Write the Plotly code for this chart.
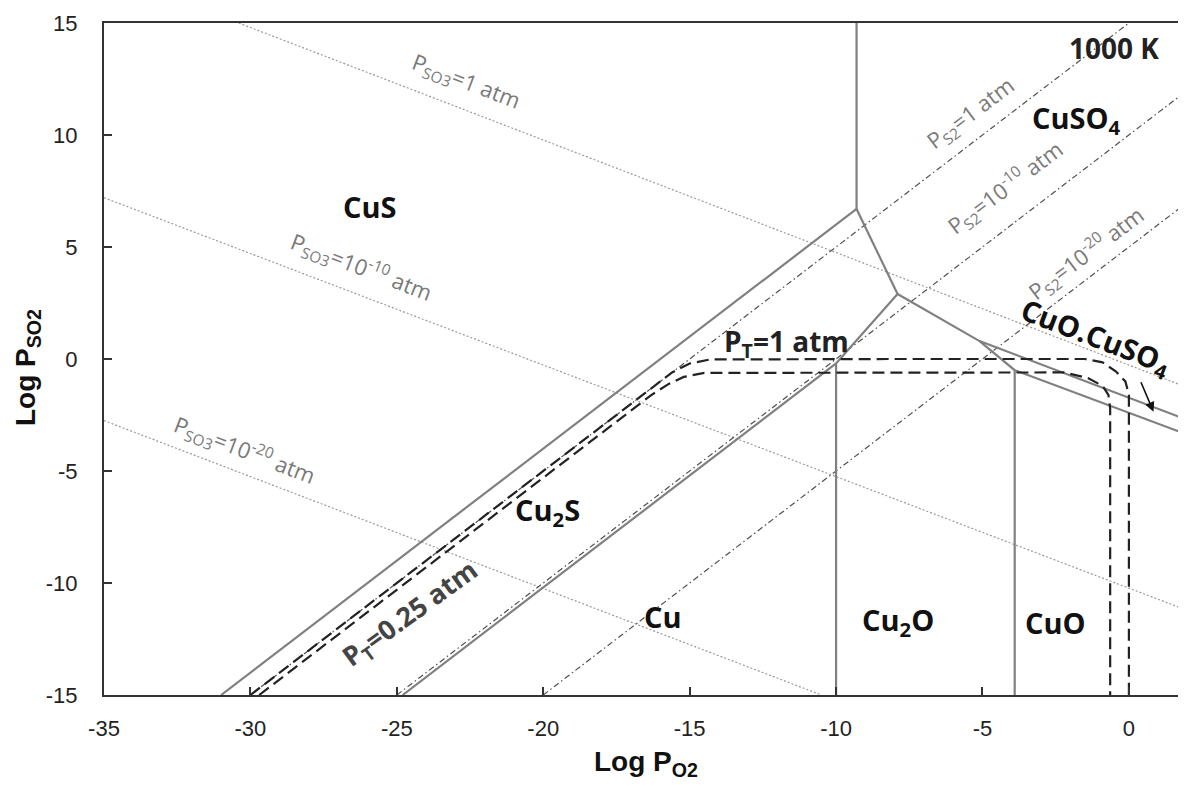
import plotly.graph_objects as go

# ---------------- data (log P values) ----------------
x_ticks = [-35, -30, -25, -20, -15, -10, -5, 0]
x_tick_text = ["-35", "-30", "-25", "-20", "-15", "-10", "-5", "0"]
y_ticks = [-15, -10, -5, 0, 5, 10, 15]
y_tick_text = ["-15", "-10", "-5", "0", "5", "10", "15"]

# solid phase boundaries
b1_x = [-9.3, -9.3];            b1_y = [15.0, 6.7]            # CuS / CuSO4
b2_x = [-31.0, -9.3];           b2_y = [-15.0, 6.7]           # CuS / Cu2S
b3_x = [-9.3, -7.9];            b3_y = [6.7, 2.9]             # Cu2S / CuSO4
b4_x = [-24.8, -10.0, -7.9];    b4_y = [-15.0, -0.2, 2.9]     # Cu / Cu2S / Cu2O
b5_x = [-7.9, -5.1, 1.95];      b5_y = [2.9, 0.8, -2.7]       # CuSO4 / CuO.CuSO4
b6_x = [-5.1, -3.9, 1.95];      b6_y = [0.8, -0.5, -3.35]     # CuO.CuSO4 / CuO
b7_x = [-10.0, -10.0];          b7_y = [-15.0, -0.2]          # Cu / Cu2O
b8_x = [-3.9, -3.9];            b8_y = [-15.0, -0.5]          # Cu2O / CuO

# iso-P(SO3) lines (dotted)
so3_1_x = [-30.4, 1.95];   so3_1_y = [15.0, -1.25]
so3_10_x = [-35.0, 1.95];  so3_10_y = [7.2, -11.2]
so3_20_x = [-35.0, -10.5]; so3_20_y = [-2.75, -15.0]

# iso-P(S2) lines (dash-dot)
s2_1_x = [-30.0, 0.0];    s2_1_y = [-15.0, 15.0]
s2_10_x = [-25.0, 1.95];  s2_10_y = [-15.0, 11.95]
s2_20_x = [-20.0, 1.95];  s2_20_y = [-15.0, 6.95]

# total pressure curves (dashed)
pt1_x = [-30.0, -16.5, -15.6, -15.0, -14.3, -8.0, -1.5, -0.9, -0.45, -0.12, 0.0, 0.0]
pt1_y = [-15.0, -1.5, -0.6, -0.2, -0.02, 0.0, 0.0, -0.15, -0.55, -1.0, -1.6, -15.0]
pt025_x = [-29.7, -16.3, -15.7, -15.2, -14.5, -8.0, -2.2, -1.4, -0.9, -0.7, -0.64, -0.64]
pt025_y = [-15.0, -1.6, -1.1, -0.8, -0.62, -0.6, -0.6, -0.85, -1.2, -1.6, -2.2, -15.0]

fig = go.Figure()

def add_line(x, y, color, width, dash):
    fig.add_trace(go.Scatter(x=x, y=y, mode="lines", showlegend=False, hoverinfo="skip",
                             line=dict(color=color, width=width, dash=dash)))

for x, y in [(so3_1_x, so3_1_y), (so3_10_x, so3_10_y), (so3_20_x, so3_20_y)]:
    add_line(x, y, "#9a9a9a", 1.2, "2px,2px")
for x, y in [(s2_1_x, s2_1_y), (s2_10_x, s2_10_y), (s2_20_x, s2_20_y)]:
    add_line(x, y, "#505050", 1.2, "6px,3px,1.5px,3px")
for x, y in [(b1_x, b1_y), (b2_x, b2_y), (b3_x, b3_y), (b4_x, b4_y),
             (b5_x, b5_y), (b6_x, b6_y), (b7_x, b7_y), (b8_x, b8_y)]:
    add_line(x, y, "#808080", 2.2, "solid")
add_line(pt1_x, pt1_y, "#222222", 2.2, "12px,6px")
add_line(pt025_x, pt025_y, "#222222", 2.2, "12px,6px")

region_font = dict(family="Open Sans", size=29, color="#111111")
thin_font = dict(family="Open Sans", size=22, color="#7a7a7a")

annotations = [
    dict(x=-25.9, y=6.8, text="<b>CuS</b>", font=region_font),
    dict(x=-1.8, y=10.7, text="<b>CuSO<sub>4</sub></b>", font=region_font),
    dict(x=-0.5, y=13.9, text="<b>1000 K</b>", font=dict(family="Open Sans", size=28, color="#222222")),
    dict(x=-1.15, y=0.95, text="<b>CuO.CuSO<sub>4</sub></b>", font=region_font, textangle=21),
    dict(x=-11.7, y=0.7, text="<b>P<sub>T</sub>=1 atm</b>", font=dict(family="Open Sans", size=28, color="#222222")),
    dict(x=-24.55, y=-11.4, text="<b>P<sub>T</sub>=0.25 atm</b>", font=dict(family="Open Sans", size=27, color="#444444"), textangle=-36),
    dict(x=-19.85, y=-6.8, text="<b>Cu<sub>2</sub>S</b>", font=region_font),
    dict(x=-15.9, y=-11.5, text="<b>Cu</b>", font=region_font),
    dict(x=-7.9, y=-11.7, text="<b>Cu<sub>2</sub>O</b>", font=region_font),
    dict(x=-2.5, y=-11.75, text="<b>CuO</b>", font=region_font),
    dict(x=-22.65, y=12.35, text="P<sub>SO3</sub>=1 atm", font=thin_font, textangle=21),
    dict(x=-26.2, y=4.1, text="P<sub>SO3</sub>=10<sup>-10</sup> atm", font=thin_font, textangle=21),
    dict(x=-30.2, y=-4.1, text="P<sub>SO3</sub>=10<sup>-20</sup> atm", font=thin_font, textangle=21),
    dict(x=-5.4, y=10.95, text="P<sub>S2</sub>=1 atm", font=thin_font, textangle=-37),
    dict(x=-4.2, y=7.65, text="P<sub>S2</sub>=10<sup>-10</sup> atm", font=thin_font, textangle=-37),
    dict(x=-1.45, y=4.7, text="P<sub>S2</sub>=10<sup>-20</sup> atm", font=thin_font, textangle=-37),
]
for a in annotations:
    a.update(xref="x", yref="y", showarrow=False)

# arrow pointing to CuO.CuSO4 field
annotations.append(dict(x=0.84, y=-2.35, ax=0.39, ay=-0.97, xref="x", yref="y",
                        axref="x", ayref="y", text="", showarrow=True,
                        arrowhead=2, arrowsize=1.2, arrowwidth=1.6, arrowcolor="#111111"))

# page body has an 8px default margin; figure is sized so plot area matches reference
W, H = 1178, 775
ML, MR, MT, MB = 96, 0, 15, 88
pw, ph = W - ML - MR, H - MT - MB

annotations.append(dict(x=(646 - 104) / pw, y=-(763 - 695) / ph, xref="paper", yref="paper",
                        xanchor="center", yanchor="middle",
                        text="<b>Log P<sub>O2</sub></b>", showarrow=False,
                        font=dict(family="Liberation Sans", size=28, color="#111111")))
annotations.append(dict(x=-(104 - 27) / pw, y=(695 - 368) / ph, xref="paper", yref="paper",
                        xanchor="center", yanchor="middle",
                        text="<b>Log P<sub>SO2</sub></b>", showarrow=False, textangle=-90,
                        font=dict(family="Liberation Sans", size=28, color="#111111")))

fig.update_layout(
    width=W, height=H,
    margin=dict(l=ML, r=MR, t=MT, b=MB, autoexpand=False),
    paper_bgcolor="white", plot_bgcolor="white",
    annotations=annotations,
    xaxis=dict(range=[-35, 1.95], tickvals=x_ticks, ticktext=x_tick_text,
               ticks="inside", ticklen=8, tickwidth=1.5,
               tickcolor="#333333", showline=True, linecolor="#333333", linewidth=2,
               mirror=True, showgrid=False, zeroline=False, ticklabelstandoff=13,
               tickfont=dict(family="Liberation Sans", size=22, color="#222222")),
    yaxis=dict(range=[-15, 15], tickvals=y_ticks, ticktext=y_tick_text,
               ticks="inside", ticklen=8, tickwidth=1.5,
               tickcolor="#333333", showline=True, linecolor="#333333", linewidth=2,
               showgrid=False, zeroline=False, ticklabelstandoff=20,
               tickfont=dict(family="Liberation Sans", size=22, color="#222222")),
)

fig.write_html("out.html")
